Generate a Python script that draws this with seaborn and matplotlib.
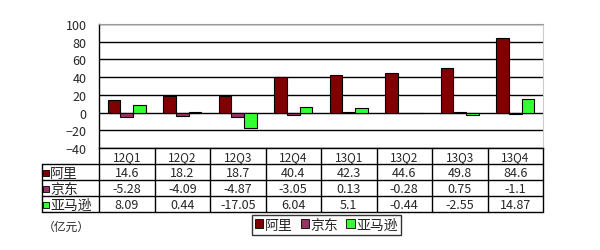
import matplotlib
matplotlib.use("Agg")
import matplotlib.pyplot as plt
import seaborn as sns
import pandas as pd
from matplotlib.patches import Patch

quarters = ["12Q1", "12Q2", "12Q3", "12Q4", "13Q1", "13Q2", "13Q3", "13Q4"]
companies = ["阿里", "京东", "亚马逊"]
ali = [14.6, 18.2, 18.7, 40.4, 42.3, 44.6, 49.8, 84.6]
jd = [-5.28, -4.09, -4.87, -3.05, 0.13, -0.28, 0.75, -1.1]
amazon = [8.09, 0.44, -17.05, 6.04, 5.1, -0.44, -2.55, 14.87]
colors = ["#800000", "#993366", "#33ff33"]
unit_label = "（亿元）"

series = [ali, jd, amazon]
df = pd.DataFrame({
    "quarter": quarters * 3,
    "company": [c for c in companies for _ in quarters],
    "value": ali + jd + amazon,
})

sns.set_style("white")
plt.rcParams["font.family"] = ["Noto Sans CJK SC", "DejaVu Sans"]

fig = plt.figure(figsize=(6, 2.51), dpi=100)
W, H = 600, 251
ax = fig.add_axes([99 / W, 1 - 149 / H, 444 / W, 124 / H])

sns.barplot(data=df, x="quarter", y="value", hue="company", order=quarters,
            hue_order=companies, palette=colors, width=0.69,
            edgecolor="black", linewidth=0.8, ax=ax, legend=False,
            saturation=1)

ax.set_ylim(-40, 100)
ax.set_xlim(-0.5, len(quarters) - 0.5)
ax.set_yticks(range(-40, 101, 20))
ax.yaxis.grid(True, color="black", linewidth=1.0)
ax.set_axisbelow(True)
ax.tick_params(axis="y", length=0, pad=9, labelsize=9)
ax.tick_params(axis="x", length=0, labelbottom=False)
ax.set_xlabel("")
ax.set_ylabel("")
for s in ["left", "bottom"]:
    ax.spines[s].set_color("black")
    ax.spines[s].set_linewidth(1.0)
ax.spines["top"].set_color("#999999")
ax.spines["right"].set_color("#cccccc")

# table below the chart
tax = fig.add_axes([99 / W, 1 - 213 / H, 444 / W, 64 / H])
tax.set_xlim(-0.5, len(quarters) - 0.5)
tax.set_ylim(4, 0)
tax.axis("off")
xL = -0.5 - 57 / 55.5
xR = len(quarters) - 0.5
for r in range(1, 5):
    tax.plot([xL, xR], [r, r], color="black", lw=1, clip_on=False)
for i in range(len(quarters) + 1):
    tax.plot([i - 0.5, i - 0.5], [0, 4], color="black", lw=1, clip_on=False)
tax.plot([xL, xL], [1, 4], color="black", lw=1, clip_on=False)
for i, q in enumerate(quarters):
    tax.text(i, 0.55, q, ha="center", va="center", fontsize=8.5)
for r, (name, vals, col) in enumerate(zip(companies, series, colors)):
    y = r + 1.55
    tax.scatter([xL + 0.08], [y], marker="s", s=22, color=col,
                edgecolor="black", linewidth=0.6, clip_on=False)
    tax.text(xL + 0.15, y, name, ha="left", va="center", fontsize=10)
    for i, v in enumerate(vals):
        tax.text(i, y, str(v), ha="center", va="center", fontsize=9)

fig.text(43 / W, 1 - 227 / H, unit_label, ha="left", va="center", fontsize=8.5)

handles = [Patch(facecolor=c, edgecolor="black", linewidth=0.6) for c in colors]
leg = fig.legend(handles, companies, loc="upper left",
                 bbox_to_anchor=(252 / W, 1 - 216 / H), ncol=3,
                 frameon=True, fancybox=False, edgecolor="black",
                 handlelength=0.6, handleheight=0.6, handletextpad=0.1,
                 columnspacing=0.6, borderpad=0.2, borderaxespad=0,
                 prop={"size": 10})
leg.get_frame().set_linewidth(1.0)

fig.savefig("out.png", dpi=100)
